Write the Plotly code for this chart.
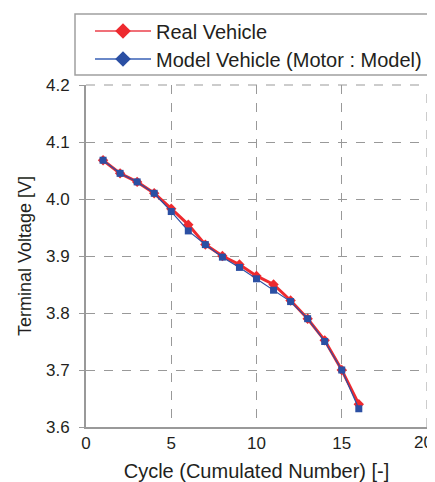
import plotly.graph_objects as go

cycles = [1, 2, 3, 4, 5, 6, 7, 8, 9, 10, 11, 12, 13, 14, 15, 16]
real_vehicle = [4.068, 4.045, 4.030, 4.010, 3.983, 3.955, 3.920, 3.900, 3.885,
                3.865, 3.850, 3.822, 3.790, 3.752, 3.700, 3.640]
model_vehicle = [4.068, 4.045, 4.030, 4.010, 3.978, 3.944, 3.920, 3.898, 3.880,
                 3.860, 3.840, 3.820, 3.790, 3.750, 3.700, 3.632]
x_ticks = [0, 5, 10, 15, 20]

RED = "#ee2a2f"
BLUE = "#2b4fa3"
GRID = "#999999"
FONT = "Liberation Sans, Arial, sans-serif"

W, H = 427, 474          # page offset of 8px (body margin) compensated
L, R, T, B = 78, 8, 77, 55
PW = W - L - R
PH = H - T - B


def px_x(page_x):
    return (page_x - 8 - L) / PW


def px_y(page_y):
    return 1 + (T - (page_y - 8)) / PH


fig = go.Figure()
fig.add_trace(go.Scatter(x=cycles, y=real_vehicle, mode="lines+markers",
                         line=dict(color=RED, width=3),
                         marker=dict(symbol="diamond", size=8, color=RED),
                         showlegend=False))
fig.add_trace(go.Scatter(x=cycles, y=model_vehicle, mode="lines+markers",
                         line=dict(color=BLUE, width=1.2),
                         marker=dict(symbol="square", size=7, color=BLUE),
                         showlegend=False))
# legend entries (each in its own legend for exact placement)
fig.add_trace(go.Scatter(x=[None], y=[None], mode="lines+markers", name="Real Vehicle",
                         line=dict(color="#f07078", width=2),
                         marker=dict(symbol="diamond", size=12, color=RED),
                         legend="legend"))
fig.add_trace(go.Scatter(x=[None], y=[None], mode="lines+markers",
                         name="Model Vehicle (Motor : Model)",
                         line=dict(color="#6a88c8", width=2),
                         marker=dict(symbol="diamond", size=12, color=BLUE),
                         legend="legend2"))

leg_common = dict(xanchor="left", yanchor="middle", borderwidth=0,
                  font=dict(size=20), itemwidth=56, bgcolor="rgba(0,0,0,0)")

fig.update_layout(
    width=W, height=H,
    margin=dict(l=L, r=R, t=T, b=B, autoexpand=False),
    paper_bgcolor="white", plot_bgcolor="white",
    font=dict(family=FONT, size=17, color="#231f20"),
    legend=dict(x=px_x(90), y=px_y(31), **leg_common),
    legend2=dict(x=px_x(90), y=px_y(59), **leg_common),
    xaxis=dict(range=[0, 20], tickvals=x_ticks[:-1], showgrid=True, gridcolor=GRID,
               griddash="dash", gridwidth=1, showline=True, linecolor=GRID,
               linewidth=2, ticks="", zeroline=False, automargin=False,
               title=dict(text="Cycle (Cumulated Number) [-]", standoff=14,
                          font=dict(size=20)),
               tickfont=dict(size=17)),
    yaxis=dict(range=[3.6, 4.2], dtick=0.1, tickformat=".1f", showgrid=True,
               gridcolor=GRID, griddash="dash", gridwidth=1, showline=True,
               linecolor=GRID, linewidth=2, ticks="outside", ticklen=5,
               tickcolor=GRID, zeroline=False, automargin=False,
               ticklabelstandoff=6,
               title=dict(text="Terminal Voltage [V]", standoff=10,
                          font=dict(size=18)),
               tickfont=dict(size=17)),
)
# legend frame (extends beyond right edge as in reference)
fig.add_shape(type="rect", xref="paper", yref="paper",
              x0=px_x(75), x1=px_x(445), y0=px_y(75), y1=px_y(14),
              line=dict(color="#a0a0a0", width=1.5), fillcolor="rgba(0,0,0,0)",
              layer="below")
# top and right frame of the plot area (dashed grid style)
fig.add_shape(type="line", xref="paper", yref="paper", x0=0, x1=1, y0=1, y1=1,
              line=dict(color=GRID, width=1, dash="dash"))
fig.add_shape(type="line", xref="paper", yref="paper", x0=1, x1=1, y0=0, y1=1,
              line=dict(color=GRID, width=1, dash="dash"))
# last x tick label, placed flush with the right edge
fig.add_annotation(x=x_ticks[-1], xref="x", y=0, yref="paper", text=str(x_ticks[-1]),
                   showarrow=False, xanchor="right", xshift=8,
                   yanchor="middle", yshift=-15,
                   font=dict(size=17, family=FONT, color="#231f20"))

fig.write_html("out.html")
